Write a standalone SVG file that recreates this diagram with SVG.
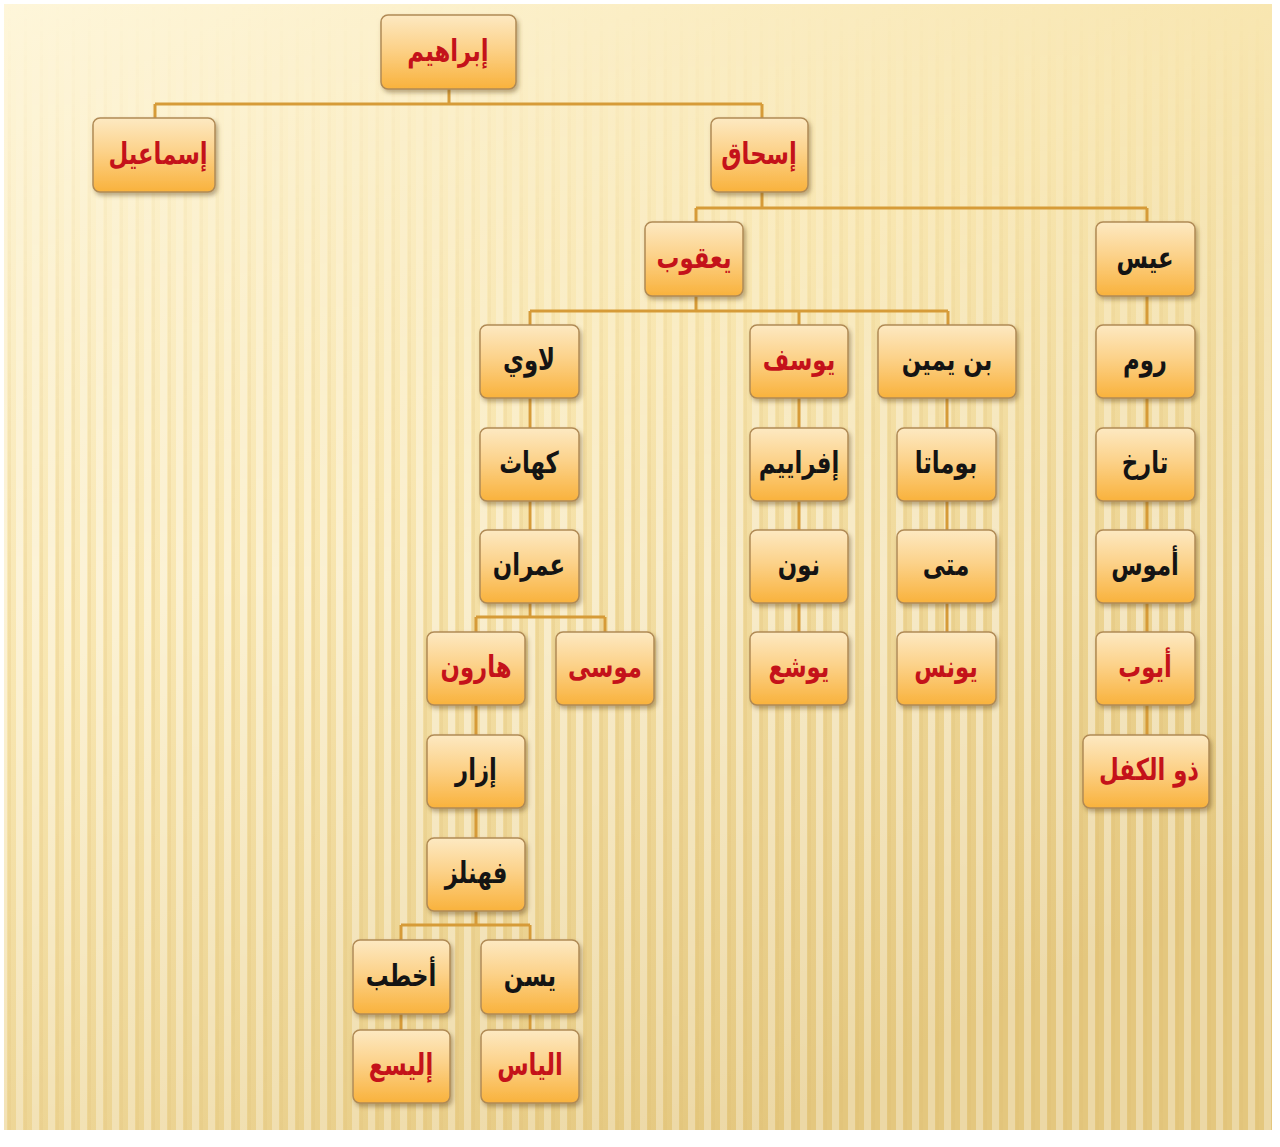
<svg xmlns="http://www.w3.org/2000/svg" width="1280" height="1147" viewBox="0 0 1280 1147">
<defs>
<linearGradient id="bg" x1="0" y1="0" x2="0.6" y2="1">
<stop offset="0" stop-color="#fef6da"/>
<stop offset="0.45" stop-color="#f8e6b0"/>
<stop offset="1" stop-color="#e4c77e"/>
</linearGradient>
<linearGradient id="fade" x1="0" y1="0" x2="0" y2="1">
<stop offset="0" stop-color="#fff" stop-opacity="0"/>
<stop offset="0.12" stop-color="#fff" stop-opacity="0.2"/>
<stop offset="0.5" stop-color="#fff" stop-opacity="0.9"/>
<stop offset="1" stop-color="#fff" stop-opacity="0.6"/>
</linearGradient>
<pattern id="stripes" x="0" y="0" width="16" height="40" patternUnits="userSpaceOnUse">
<rect x="0" y="0" width="7" height="40" fill="#ffffff" opacity="0.5"/>
<rect x="8" y="0" width="3" height="40" fill="#d8b868" opacity="0.22"/>
</pattern>
<mask id="m">
<rect x="0" y="0" width="1280" height="1147" fill="url(#fade)"/>
</mask>
<linearGradient id="box" x1="0" y1="0" x2="0" y2="1">
<stop offset="0" stop-color="#fde9c2"/>
<stop offset="0.45" stop-color="#fcd28a"/>
<stop offset="1" stop-color="#f9b23c"/>
</linearGradient>
<filter id="sh" x="-20%" y="-20%" width="140%" height="150%">
<feDropShadow dx="2" dy="3" stdDeviation="2.2" flood-color="#6b5020" flood-opacity="0.45"/>
</filter>
<style>
.n rect{fill:url(#box);stroke:#b08a55;stroke-width:1.5;filter:url(#sh)}
.n text{font-family:"DejaVu Sans",sans-serif;font-weight:bold;font-size:30px;text-anchor:middle;dominant-baseline:central}
.r text{fill:#c4121a}
.k text{fill:#141414}
#connectors path{fill:none;stroke:#d69b38;stroke-width:3}
</style>
</defs>
<rect width="1280" height="1147" fill="#ffffff"/>
<rect x="4" y="4" width="1268" height="1126" fill="url(#bg)"/>
<rect x="4" y="4" width="1268" height="1126" fill="url(#stripes)" mask="url(#m)"/>
<g id="connectors">
<path d="M449 89V104M155 104H762M155 104V118M762 104V118"/>
<path d="M762 192V208M696 208H1147M696 208V222M1147 208V222"/>
<path d="M696 296V311M530 311H948M530 311V325M799 311V325M948 311V325"/>
<path d="M1147 296V735"/>
<path d="M530 398V530"/>
<path d="M799 398V632"/>
<path d="M947 398V632"/>
<path d="M530 603V617M476 617H605M476 617V632M605 617V632"/>
<path d="M476 705V838"/>
<path d="M476 911V925M401 925H530M401 925V940M530 925V940"/>
<path d="M401 1014V1030M530 1014V1030"/>
</g>
<g id="n1" class="n r"><rect x="381" y="15" width="135" height="74" rx="7"/><text transform="translate(448,50) scale(0.76,1)">إبراهيم</text></g>
<g id="n2" class="n r"><rect x="93" y="118" width="122" height="74" rx="7"/><text transform="translate(158,153) scale(0.76,1)">إسماعيل</text></g>
<g id="n3" class="n r"><rect x="711" y="118" width="97" height="74" rx="7"/><text transform="translate(759,153) scale(0.76,1)">إسحاق</text></g>
<g id="n4" class="n r"><rect x="645" y="222" width="98" height="74" rx="7"/><text transform="translate(694,257) scale(0.76,1)">يعقوب</text></g>
<g id="n5" class="n k"><rect x="1096" y="222" width="99" height="74" rx="7"/><text transform="translate(1145,257) scale(0.76,1)">عيس</text></g>
<g id="n6" class="n k"><rect x="480" y="325" width="99" height="73" rx="7"/><text transform="translate(529,359) scale(0.76,1)">لاوي</text></g>
<g id="n7" class="n r"><rect x="750" y="325" width="98" height="73" rx="7"/><text transform="translate(799,359) scale(0.76,1)">يوسف</text></g>
<g id="n8" class="n k"><rect x="878" y="325" width="138" height="73" rx="7"/><text transform="translate(947,359) scale(0.76,1)">بن يمين</text></g>
<g id="n9" class="n k"><rect x="1096" y="325" width="99" height="73" rx="7"/><text transform="translate(1145,359) scale(0.76,1)">روم</text></g>
<g id="n10" class="n k"><rect x="480" y="428" width="99" height="73" rx="7"/><text transform="translate(529,462) scale(0.76,1)">كهاث</text></g>
<g id="n11" class="n k"><rect x="750" y="428" width="98" height="73" rx="7"/><text transform="translate(799,462) scale(0.76,1)">إفراييم</text></g>
<g id="n12" class="n k"><rect x="897" y="428" width="99" height="73" rx="7"/><text transform="translate(946,462) scale(0.76,1)">بوماتا</text></g>
<g id="n13" class="n k"><rect x="1096" y="428" width="99" height="73" rx="7"/><text transform="translate(1145,462) scale(0.76,1)">تارخ</text></g>
<g id="n14" class="n k"><rect x="480" y="530" width="99" height="73" rx="7"/><text transform="translate(529,564) scale(0.76,1)">عمران</text></g>
<g id="n15" class="n k"><rect x="750" y="530" width="98" height="73" rx="7"/><text transform="translate(799,564) scale(0.76,1)">نون</text></g>
<g id="n16" class="n k"><rect x="897" y="530" width="99" height="73" rx="7"/><text transform="translate(946,564) scale(0.76,1)">متى</text></g>
<g id="n17" class="n k"><rect x="1096" y="530" width="99" height="73" rx="7"/><text transform="translate(1145,564) scale(0.76,1)">أموس</text></g>
<g id="n18" class="n r"><rect x="427" y="632" width="98" height="73" rx="7"/><text transform="translate(476,666) scale(0.76,1)">هارون</text></g>
<g id="n19" class="n r"><rect x="556" y="632" width="98" height="73" rx="7"/><text transform="translate(605,666) scale(0.76,1)">موسى</text></g>
<g id="n20" class="n r"><rect x="750" y="632" width="98" height="73" rx="7"/><text transform="translate(799,666) scale(0.76,1)">يوشع</text></g>
<g id="n21" class="n r"><rect x="897" y="632" width="99" height="73" rx="7"/><text transform="translate(946,666) scale(0.76,1)">يونس</text></g>
<g id="n22" class="n r"><rect x="1096" y="632" width="99" height="73" rx="7"/><text transform="translate(1145,666) scale(0.76,1)">أيوب</text></g>
<g id="n23" class="n k"><rect x="427" y="735" width="98" height="73" rx="7"/><text transform="translate(476,769) scale(0.76,1)">إزار</text></g>
<g id="n24" class="n r"><rect x="1083" y="735" width="126" height="73" rx="7"/><text transform="translate(1149,769) scale(0.76,1)">ذو الكفل</text></g>
<g id="n25" class="n k"><rect x="427" y="838" width="98" height="73" rx="7"/><text transform="translate(476,872) scale(0.76,1)">فهنلز</text></g>
<g id="n26" class="n k"><rect x="353" y="940" width="97" height="74" rx="7"/><text transform="translate(401,975) scale(0.76,1)">أخطب</text></g>
<g id="n27" class="n k"><rect x="481" y="940" width="98" height="74" rx="7"/><text transform="translate(530,975) scale(0.76,1)">يسن</text></g>
<g id="n28" class="n r"><rect x="353" y="1030" width="97" height="73" rx="7"/><text transform="translate(401,1064) scale(0.76,1)">إليسع</text></g>
<g id="n29" class="n r"><rect x="481" y="1030" width="98" height="73" rx="7"/><text transform="translate(530,1064) scale(0.76,1)">الياس</text></g>
</svg>
